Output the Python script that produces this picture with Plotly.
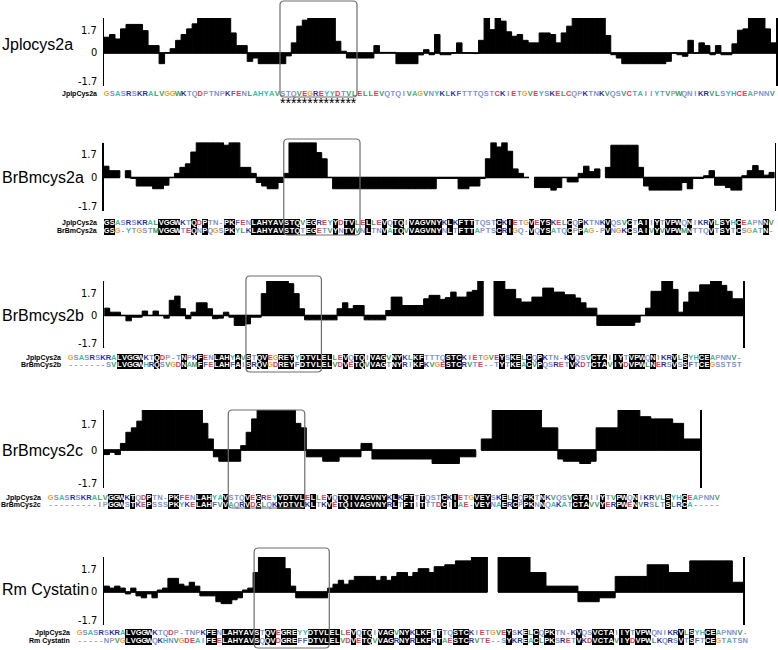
import plotly.graph_objects as go

W, H = 778, 650

# ---------------- profile values (one bar per alignment column; None = gap) ----------------
jp_profile = [0.81, 0.95, 0.72, 1.24, 1.47, 1.47, 1.47, 1.15, 0.38, 0.38,
              -0.55, 0.02, 0.22, 0.65, 0.95, 1.24, 1.5, 1.8, 1.8, 1.8,
              1.8, 1.8, 1.8, 1.03, 0.38, 0.38, -0.43, -0.26, -0.55, -0.55,
              -0.55, -0.55, -0.55, -0.15, 0.52, 1.38, 1.69, 1.8, 1.8, 1.8,
              1.8, 1.8, 0.6, 0.09, -0.26, -0.26, -0.26, -0.26, -0.26, 0.38,
              0.03, 0.03, 0.03, -0.55, -0.55, -0.55, -0.55, -0.1, 0.17, -0.09,
              0.95, -0.09, -0.09, 0.0, 0.52, 0.0, 0.0, -0.03, 0.65, 1.8,
              1.2, 1.8, 1.64, 1.09, 0.86, 0.95, 0.65, 0.52, 0.52, 1.03,
              1.03, 0.95, 0.52, 1.03, 1.38, 1.8, 1.8, 1.8, 1.8, 1.8,
              1.8, 0.9, -0.09, -0.26, -0.55, -0.55, -0.55, -0.55, -0.55, -0.55,
              -0.55, -0.55, -0.43, 0.0, -0.09, -0.17, 0.65, 0.0, 0.52, 0.38,
              -0.09, 0.38, -0.09, -0.09, 0.47, 1.17, 1.24, 1.8, 1.8, 1.8,
              1.24, 0.52]

b2a_profile = [0.58, 0.35, 0.35, None, 0.35, -0.05, -0.44, -0.44, -0.44, -0.58,
               -0.58, -0.4, 0.0, 0.21, 0.52, 0.7, 1.31, 1.8, 1.8, 1.8,
               1.8, 1.8, 1.66, 1.8, 1.8, 0.52, 0.52, 0.21, -0.26, -0.44,
               -0.58, -0.58, -0.26, 0.21, 1.8, 1.8, 1.8, 1.8, 1.8, 1.28,
               0.96, 0.0, -0.58, -0.58, -0.58, -0.58, -0.58, -0.58, -0.58, -0.58,
               -0.58, -0.58, -0.58, -0.58, -0.58, -0.58, -0.58, -0.58, -0.58, -0.58,
               -0.58, -0.05, -0.05, -0.05, -0.05, -0.58, -0.58, -0.44, -0.44, -0.05,
               0.96, 1.8, 1.57, 1.8, 1.35, 0.44, 0.21, 0.0, None, -0.52,
               -0.52, -0.52, -0.65, -0.52, 0.0, -0.23, -0.23, 0.21, 0.58, 0.3,
               0.44, None, 0.52, 1.66, 1.66, 1.66, 1.66, 1.66, 0.52, -0.44,
               -0.65, -0.65, -0.65, -0.65, -0.65, -0.65, -0.26, -0.58, -0.05, -0.05,
               0.09, 0.35, -0.4, -0.4, -0.52, -0.65, -0.65, 0.09, 0.35, 0.61,
               0.35, 0.12, 0.26]

b2b_profile = [0.38, 0.17, 0.17, 0.0, -0.28, -0.09, -0.09, 0.23, 0.0, 0.23,
               0.0, -0.14, 0.79, 1.01, 0.35, -0.17, 0.17, 0.66, 0.66, 0.35,
               -0.17, -0.14, 0.17, -0.09, -0.52, -0.52, -0.44, -0.09, -0.09, 1.14,
               1.8, 1.8, 1.8, 1.8, 1.66, 1.14, 0.35, -0.23, -0.23, -0.23,
               -0.23, -0.23, -0.23, 0.35, 0.66, 0.35, 0.52, 0.52, -0.23, -0.23,
               -0.23, -0.23, 0.26, 0.96, 0.96, 0.52, 0.52, 0.52, 0.52, 0.87,
               1.05, 1.05, 0.84, 0.93, 1.22, 0.96, 0.96, 1.22, 1.31, 1.8,
               None, None, 1.8, 1.8, 1.36, 1.36, 0.87, 0.7, 0.7, 0.96,
               0.96, 1.43, 1.43, 1.22, 1.22, 1.08, 1.08, 0.91, 0.66, 0.38,
               0.38, -0.52, -0.52, -0.52, -0.52, -0.52, -0.52, -0.52, -0.35, 0.0,
               0.38, 1.26, 1.26, 1.8, 1.8, 1.36, 0.17, 0.7, 1.22, 1.22,
               1.6, 1.6, 1.8, 1.8, 1.57, 1.26, 0.87, 0.87]

b2c_profile = [-0.2, -0.1, -0.2, 0.3, 0.8, 1.0, 1.3, 1.8, 1.8, 1.8,
               1.8, 1.8, 1.8, 1.8, 1.8, 1.8, 1.8, 1.8, 1.2, 0.5,
               -0.3, -0.5, -0.5, -0.5, -0.5, 0.2, 0.8, 1.4, 1.8, 1.8,
               1.8, 1.8, 1.8, 1.8, 1.8, 1.2, 1.0, -0.3, -0.3, -0.3,
               -0.5, -0.5, -0.5, -0.3, -0.3, -0.3, -0.3, 0.3, 0.3, -0.4,
               -0.4, -0.4, -0.4, -0.4, -0.4, -0.4, -0.4, -0.4, -0.4, -0.4,
               -0.6, -0.6, -0.6, -0.6, -0.6, -0.3, -0.3, -0.3, None, 0.5,
               0.5, 1.8, 1.8, 1.8, 1.8, 1.8, 1.8, 1.8, 1.8, 1.8,
               1.0, 1.0, 1.0, -0.4, -0.5, -0.5, -0.5, -0.6, -0.6, -0.5,
               1.0, 1.0, 1.0, 1.0, 1.8, 1.8, 1.8, 1.8, 1.5, 1.5,
               1.4, 1.4, 1.4, 1.4, 1.2, 1.2, 0.5, 0.5, 0.5]

rm_profile = [0.3, 0.2, 0.3, 0.2, -0.1, 0.2, -0.2, -0.3, -0.1, -0.3,
              0.1, 0.2, 0.7, 0.7, 0.4, 0.3, 0.5, 0.3, -0.2, -0.2,
              -0.2, -0.5, -0.6, -0.6, -0.4, -0.3, 0.1, 0.2, 1.0, 1.8,
              1.8, 1.8, 1.8, 1.8, 1.2, 0.3, -0.3, -0.3, -0.3, -0.3,
              -0.3, -0.3, 0.2, 0.4, 0.6, 0.4, 0.6, 0.8, 0.8, 0.8,
              0.8, 0.6, 0.8, 0.6, 0.8, 1.0, 1.0, 0.8, 1.0, 1.2,
              1.2, 1.0, 1.3, 1.3, 1.4, 1.4, 1.6, 1.6, 1.6, 1.8,
              1.8, 1.8, None, None, 1.8, 1.8, 1.8, 1.8, 1.8, 1.8,
              1.0, 1.0, 1.0, 0.3, 0.3, 0.3, 0.3, 0.3, 0.3, -0.5,
              -0.5, -0.5, -0.5, -0.3, -0.3, -0.3, 0.8, 0.8, 0.8, 0.8,
              0.8, 0.8, 1.4, 1.4, 1.4, 1.4, 1.0, 1.0, 1.0, 1.0,
              1.6, 1.6, 1.6, 1.6, 1.6, 1.6, 1.6, 1.6, 0.5, 0.5]

# ---------------- alignments ----------------
aln1_top = "GSASRSKRALVGGWKTQDPTNPKFENLAHYAVSTQVEGREYYDTVLELLEVQTQIVAGVNYKLKFTTTQSTCKIETGVEYSKELCQPKTNKVQSVCTAIIYTVPWQNIKRVLSYHCEAPNNV"
aln2_top = "GSASRSKRALVGGWKTQDPTN-PKFENLAHYAVSTQVEGREYYDTVLELLEVQTQIVAGVNYKLKFTTTQSTCKIETGVEYSKELCQPKTNKVQSVCTAIIYTVPWQNIKRVLSYHCEAPNNV"
aln2_bot = "GSG-YTGSTMVGGWTEQNPQGSPKYLKLAHYAVSTQTEGETVYNTVVNLTNVATQVVAGVNYNLTFTTAPTSCRIGQ-VQYSATQCPPAG-PVNGKCSAIVYVVPWMNTTQVTSYTCSGATN-"
aln3_top = "GSASRSKRALVGGWKTQDP-TNPKFENLAHYAVSTQVEGREYYDTVLELLEVQTQIVAGVNYKLKFTTTQSTCKIETGVEYSKELCQPKTN-KVQSVCTAIIYTVPWQNIKRVLSYHCEAPNNV-"
aln3_bot = "-------SVLVGGWHRQSVGDNAMFFELAHFAISRQVGDREYFDTVLELVDVETQVVAGTNYRIKFKVGESTCRVTE--TYTKEACVPQSRETVKDTCTAVIYDVPWLNERSVSSFTCEGSSTST"
aln4_top = "GSASRSKRALVGGWKTQDPTN-PKFENLAHYAVSTQVEGREYYDTVLELLEVQTQIVAGVNYKLKFTTTQSTCKIETGVEYSKELCQPKTNKVQSVCTAIIYTVPWQNIKRVLSYHCEAPNNV"
aln4_bot = "---------IPGGWSTKEPSSSPKYKELAHFVVAQRVDGLQKYDTVLKLTKVETQIVAGVNYRLTFTITTTDCIIAE-VEYNAERCPPKNNQAKATCTAVVYERPWENVRSLTSLRCA-----"
aln5_top = "GSASRSKRALVGGWKTQDP-TNPKFENLAHYAVSTQVEGREYYDTVLELLEVQTQIVAGVNYKLKFTTTQSTCKIETGVEYSKELCQPKTN-KVQSVCTAIIYTVPWQNIKRVLSYHCEAPNNV-"
aln5_bot = "-----NPVGLVGGWQKHNVGDEAIFEELAHYAVSQQVDGREFFDTVLELVDVETQVVAGRNYRLKFKTAESTCRVTE--SYKREACLPKSRETVKDVCTAVIYDVPWLKQRSVTSFTCEGTATSN"

panel_labels = ["Jplocys2a", "BrBmcys2a", "BrBmcys2b", "BrBmcys2c", "Rm Cystatin"]
profiles = [jp_profile, b2a_profile, b2b_profile, b2c_profile, rm_profile]
alignments = [
    [("JplpCys2a", aln1_top)],
    [("JplpCys2a", aln2_top), ("BrBmCys2a", aln2_bot)],
    [("JplpCys2a", aln3_top), ("BrBmCys2b", aln3_bot)],
    [("JplpCys2a", aln4_top), ("BrBmCys2c", aln4_bot)],
    [("JplpCys2a", aln5_top), ("Rm Cystatin", aln5_bot)],
]
epitope = "STQVEGREYYDTVL"
y_tick_labels = ["1.7", "0", "-1.7"]
Y_MIN, Y_MAX = -1.7, 1.8

aa_colors = {
    "G": "#f0a030", "A": "#3cbfa0",
    "S": "#7d8fd0", "T": "#7d8fd0", "N": "#7d8fd0", "Q": "#7d8fd0",
    "R": "#2a2f9e", "K": "#2a2f9e",
    "D": "#e8384f", "E": "#e8384f", "C": "#e0404f",
    "L": "#3a9a5a", "V": "#3a9a5a", "W": "#3a9a5a", "M": "#3a9a5a",
    "I": "#8a8cb0", "F": "#4a62c8", "Y": "#35b5b5", "H": "#35b5b5",
    "P": "#9a9ab4", "-": "#909090",
}

# pixel geometry of each panel
geom = [
    dict(px=(104, 776), py=(18, 86), ax=(104, 775), ay=(90, 106), box=(1, 97), lshift=8),
    dict(px=(103.5, 774.5), py=(142.5, 210.5), ax=(104, 774), ay=(219, 235), box=(139, 235), lshift=0),
    dict(px=(104.3, 743), py=(281, 348), ax=(68, 742), ay=(354, 369), box=(276, 372), lshift=0),
    dict(px=(104, 700), py=(410, 488), ax=(48, 720), ay=(494, 509), box=(410, 508), lshift=0),
    dict(px=(104, 743), py=(557, 625), ax=(77, 748), ay=(629, 645), box=(548, 648), lshift=2),
]

TEXT_FONT = "Liberation Sans, Arial, sans-serif"
TICK_FONT = "Liberation Sans Narrow, DejaVu Sans Condensed, Arial Narrow, sans-serif"

fig = go.Figure()
layout = dict(width=W, height=H, margin=dict(l=0, r=0, t=0, b=0),
              paper_bgcolor="white", plot_bgcolor="white", showlegend=False,
              barmode="overlay", bargap=0, hovermode=False)
shapes, annotations = [], []


def sfx(n):
    return "" if n == 1 else str(n)


def xdom(a, b):
    return [a / W, b / W]


def ydom(top, bottom):
    return [1 - bottom / H, 1 - top / H]


for k, (label, prof, aln, g) in enumerate(zip(panel_labels, profiles, alignments, geom)):
    pk = sfx(2 * k + 1)
    ak = sfx(2 * k + 2)
    n = len(prof)
    # ---- profile ----
    fig.add_trace(go.Bar(x=list(range(n)), y=prof, width=1,
                         marker=dict(color="black", line=dict(color="black", width=1)),
                         xaxis=f"x{pk}", yaxis=f"y{pk}"))
    bx, by = [], []
    for i, v in enumerate(prof):
        if v is None:
            bx.append(None)
            by.append(None)
        else:
            bx += [i - 0.5, i + 0.5]
            by += [0, 0]
    fig.add_trace(go.Scatter(x=bx, y=by, mode="lines", line=dict(color="black", width=1.5),
                             xaxis=f"x{pk}", yaxis=f"y{pk}"))
    layout[f"xaxis{pk}"] = dict(domain=xdom(*g["px"]), range=[-0.5, n - 0.5], visible=False,
                                anchor=f"y{pk}")
    layout[f"yaxis{pk}"] = dict(domain=ydom(*g["py"]), range=[Y_MIN, Y_MAX], anchor=f"x{pk}",
                                showline=True, linecolor="black", linewidth=1.5, mirror=True,
                                showticklabels=False, ticks="", showgrid=False, zeroline=False)
    for yv in (Y_MIN, Y_MAX):
        shapes.append(dict(type="line", xref=f"x{pk}", yref=f"y{pk}", xsizemode="pixel",
                           xanchor=-0.5, x0=-8, x1=0, y0=yv, y1=yv,
                           line=dict(color="black", width=1.5)))
    for txt, ypos, yref in ((y_tick_labels[0], 0.82, f"y{pk} domain"),
                            (y_tick_labels[1], 0, f"y{pk}"),
                            (y_tick_labels[2], 0.06, f"y{pk} domain")):
        annotations.append(dict(text=txt, xref=f"x{pk} domain", x=0, xanchor="right", xshift=-5,
                                yref=yref, y=ypos, yanchor="middle", showarrow=False,
                                font=dict(family=TICK_FONT, size=11, color="black")))
    annotations.append(dict(text=label, xref="paper", x=0, xanchor="left",
                            yref=f"y{pk}", y=0, yshift=g["lshift"], yanchor="middle",
                            showarrow=False,
                            font=dict(family=TEXT_FONT, size=16, color="black")))

    # ---- alignment ----
    top_seq = aln[0][1]
    ncol = len(top_seq)
    nrows = len(aln)
    if nrows == 1:
        row_y = [0]
        yr = [-1.5, 0.5]
    else:
        row_y = [1, 0]
        yr = [-0.5, 1.5]
    layout[f"xaxis{ak}"] = dict(domain=xdom(*g["ax"]), range=[-0.5, ncol - 0.5], visible=False,
                                anchor=f"y{ak}")
    layout[f"yaxis{ak}"] = dict(domain=ydom(*g["ay"]), range=yr, visible=False, anchor=f"x{ak}")
    ident = [False] * ncol
    if nrows == 2:
        s1, s2 = aln[0][1], aln[1][1]
        ident = [(i < len(s2) and s1[i] == s2[i] and s1[i] != "-") for i in range(ncol)]
    for (name, seq), yv in zip(aln, row_y):
        cols = list(range(len(seq)))
        hl = [c for c in cols if c < ncol and ident[c]]
        if hl:
            fig.add_trace(go.Bar(x=hl, y=[1] * len(hl), base=[yv - 0.5] * len(hl), width=1,
                                 marker=dict(color="black", line=dict(width=0)),
                                 xaxis=f"x{ak}", yaxis=f"y{ak}"))
        colors = ["white" if (c < ncol and ident[c]) else aa_colors.get(ch, "#555")
                  for c, ch in zip(cols, seq)]
        fig.add_trace(go.Scatter(x=cols, y=[yv] * len(seq), mode="text", text=list(seq),
                                 textposition="middle center", cliponaxis=False,
                                 textfont=dict(family=TEXT_FONT, size=7.5, color=colors,
                                               weight="bold"),
                                 xaxis=f"x{ak}", yaxis=f"y{ak}"))
        annotations.append(dict(text=f"<b>{name}</b>", xref=f"x{ak}", x=-0.5, xanchor="right",
                                xshift=-5, yref=f"y{ak}", y=yv, yanchor="middle",
                                showarrow=False,
                                font=dict(family=TEXT_FONT, size=7, color="black")))
    c0 = top_seq.find(epitope)
    c1 = c0 + len(epitope) - 1
    if nrows == 1:
        annotations.append(dict(text="*" * len(epitope), xref=f"x{ak}", x=(c0 + c1) / 2,
                                xanchor="center", yref=f"y{ak}", y=-1.1, yanchor="middle",
                                showarrow=False,
                                font=dict(family=TEXT_FONT, size=14, color="black")))
    # rounded box around epitope
    colw = (g["ax"][1] - g["ax"][0]) / ncol
    rx, ry = 4 / colw, 4 / H
    x0, x1 = c0 - 0.5, c1 + 0.5
    yt, yb = 1 - g["box"][0] / H, 1 - g["box"][1] / H
    path = (f"M {x0 + rx},{yt} L {x1 - rx},{yt} Q {x1},{yt} {x1},{yt - ry} "
            f"L {x1},{yb + ry} Q {x1},{yb} {x1 - rx},{yb} L {x0 + rx},{yb} "
            f"Q {x0},{yb} {x0},{yb + ry} L {x0},{yt - ry} Q {x0},{yt} {x0 + rx},{yt} Z")
    shapes.append(dict(type="path", xref=f"x{ak}", yref="paper", path=path,
                       line=dict(color="#6e6e6e", width=1.2)))

layout["shapes"] = shapes
layout["annotations"] = annotations
fig.update_layout(**layout)
fig.write_html("out.html", config={"displayModeBar": False, "staticPlot": True},
               post_script="document.body.style.margin='0px';document.body.style.padding='0px';")
